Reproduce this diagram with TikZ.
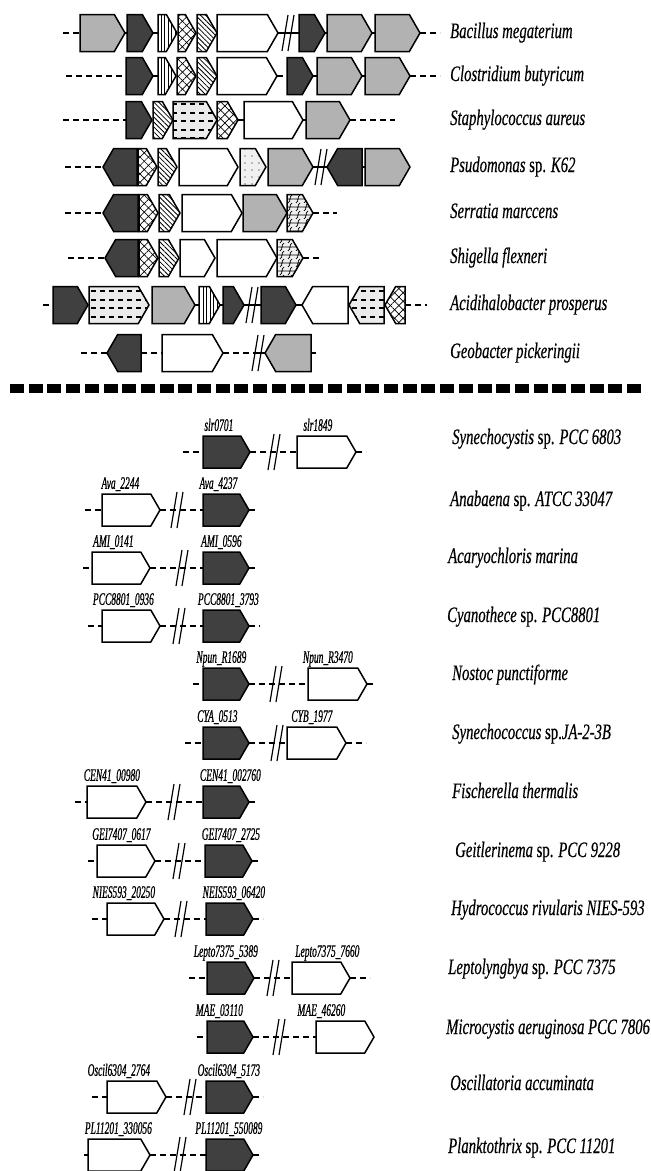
\documentclass[tikz,border=0pt]{standalone}
\usepackage{fontspec}
\setmainfont{Liberation Serif}
\newfontfamily\spfont[FakeStretch=0.67,FakeBold=0.4]{Liberation Serif}
\newfontfamily\locfont[FakeStretch=0.54,FakeBold=0.7]{Liberation Serif}
\usetikzlibrary{
  positioning,
  shapes.symbols,
  patterns,
  patterns.meta
}
% fill patterns of the gene arrows
\pgfdeclarepatternformonly{dashrows}{\pgfpoint{-1pt}{-1pt}}{\pgfpoint{10pt}{10pt}}{\pgfpoint{9pt}{8.5pt}}{%
  \pgfpathrectangle{\pgfpoint{1pt}{3pt}}{\pgfpoint{5pt}{2.2pt}}\pgfusepath{fill}}
\pgfdeclarepatternformonly{waves}{\pgfpoint{-1pt}{-1pt}}{\pgfpoint{9pt}{9pt}}{\pgfpoint{8pt}{8pt}}{%
  \pgfsetlinewidth{0.7pt}%
  \pgfpathmoveto{\pgfpoint{0pt}{0pt}}%
  \pgfpathcurveto{\pgfpoint{3pt}{1pt}}{\pgfpoint{1pt}{7pt}}{\pgfpoint{4pt}{8pt}}%
  \pgfpathmoveto{\pgfpoint{0pt}{4pt}}%
  \pgfpathcurveto{\pgfpoint{3pt}{3pt}}{\pgfpoint{5pt}{5pt}}{\pgfpoint{8pt}{4pt}}%
  \pgfusepath{stroke}}

\begin{document}
\begin{tikzpicture}[x=1pt, y=-1pt,
	gene/.style={signal, signal to=east, signal pointer angle=120, draw,
		line width=1.5pt, anchor=west, inner sep=0pt, outer sep=0pt, minimum height=37},
	low/.style={minimum height=32},
	back/.style={signal to=west},
	dk/.style={fill=black!75},
	lg/.style={fill=black!30},
	wt/.style={fill=white},
	vl/.style={pattern={Lines[angle=90,distance=3.5pt,line width=0.8pt]}},
	nw/.style={pattern={Lines[angle=-45,distance=3.5pt,line width=0.8pt]}},
	xh/.style={preaction={pattern={Lines[angle=45,distance=6pt,line width=0.7pt]}},
		pattern={Lines[angle=-45,distance=6pt,line width=0.7pt]}},
	dr/.style={preaction={fill=black!8}, pattern=dashrows},
	sd/.style={preaction={fill=black!6}, pattern={Dots[distance=7pt,radius=0.6pt]}},
	wv/.style={preaction={fill=black!6}, pattern=waves},
	lnk/.style={line width=2pt, dash pattern=on 6pt off 4pt},
	bb/.style={line width=1.5pt},
	divider/.style={line width=9pt, dash pattern=on 14pt off 4.7pt},
	species/.style={anchor=west, inner sep=0pt, text height=15pt, text depth=5pt,
		font=\spfont\itshape\fontsize{22}{24}\selectfont},
	loc/.style={inner sep=1pt, text height=11pt, text depth=2pt,
		font=\locfont\itshape\fontsize{17.5}{19}\selectfont},
	brk/.pic={\draw[line width=1.2pt] (-5,18)--(1,-18) (1,18)--(7,-18);}
	]
	\useasboundingbox (0,0) rectangle (651,1171);
	% Bacillus megaterium
	\coordinate (b1l) at (63,33); \coordinate (b1k) at (287,33); \coordinate (b1r) at (440,33);
	\node[gene,lg,minimum width=45] (b1a) at (80,33) {};
	\node[gene,dk,minimum width=26] (b1b) at (127,33) {};
	\node[gene,vl,minimum width=19] (b1c) at (158,33) {};
	\node[gene,xh,minimum width=18] (b1d) at (178,33) {};
	\node[gene,nw,minimum width=20] (b1e) at (197,33) {};
	\node[gene,wt,minimum width=61] (b1f) at (217,33) {};
	\node[gene,dk,minimum width=26] (b1g) at (299,33) {};
	\node[gene,lg,minimum width=45] (b1h) at (327,33) {};
	\node[gene,lg,minimum width=45] (b1i) at (375,33) {};
	\draw[lnk] (b1l) -- (b1a.west); \draw[lnk] (b1i.east) -- (b1r);
	\draw[bb] (b1a.east) -- (b1b.west) (b1b.east) -- (b1c.west) (b1f.east) -- (b1k) -- (b1g.west)
		(b1g.east) -- (b1h.west) (b1h.east) -- (b1i.west);
	\pic at (b1k) {brk};
	\node[species] (t1) at (450,33) {Bacillus megaterium};
	% Clostridium butyricum
	\coordinate (b2l) at (66,76); \coordinate (b2r) at (440,76);
	\node[gene,dk,minimum width=27] (b2a) at (126,76) {};
	\node[gene,vl,minimum width=18] (b2b) at (158,76) {};
	\node[gene,xh,minimum width=19] (b2c) at (177,76) {};
	\node[gene,nw,minimum width=20] (b2d) at (197,76) {};
	\node[gene,wt,minimum width=60] (b2e) at (217,76) {};
	\node[gene,dk,minimum width=26] (b2f) at (287,76) {};
	\node[gene,lg,minimum width=45] (b2g) at (317,76) {};
	\node[gene,lg,minimum width=45] (b2h) at (365,76) {};
	\draw[lnk] (b2l) -- (b2a.west); \draw[lnk] (b2e.east) -- (b2f.west); \draw[lnk] (b2h.east) -- (b2r);
	\draw[bb] (b2a.east) -- (b2b.west) (b2f.east) -- (b2g.west) (b2g.east) -- (b2h.west);
	\node[species] (t2) at (450,76) {Clostridium butyricum};
	% Staphylococcus aureus
	\coordinate (b3l) at (63,120); \coordinate (b3r) at (395,120);
	\node[gene,dk,minimum width=26] (b3a) at (126,120) {};
	\node[gene,nw,minimum width=20] (b3b) at (153,120) {};
	\node[gene,dr,minimum width=44] (b3c) at (173,120) {};
	\node[gene,xh,minimum width=21] (b3d) at (217,120) {};
	\node[gene,wt,minimum width=59] (b3e) at (244,120) {};
	\node[gene,lg,minimum width=44] (b3f) at (306,120) {};
	\draw[lnk] (b3l) -- (b3a.west); \draw[lnk] (b3f.east) -- (b3r);
	\draw[bb] (b3d.east) -- (b3e.west) (b3e.east) -- (b3f.west);
	\node[species] (t3) at (450,120) {Staphylococcus aureus};
	% Psudomonas sp. K62
	\coordinate (b4l) at (65,167); \coordinate (b4k) at (320,167);
	\node[gene,dk,back,minimum width=34] (b4a) at (103,167) {};
	\node[gene,xh,minimum width=19] (b4b) at (138,167) {};
	\node[gene,nw,minimum width=19] (b4c) at (158,167) {};
	\node[gene,wt,minimum width=59] (b4d) at (179,167) {};
	\node[gene,sd,minimum width=26] (b4e) at (240,167) {};
	\node[gene,lg,minimum width=45] (b4f) at (268,167) {};
	\node[gene,dk,back,minimum width=35] (b4g) at (327,167) {};
	\node[gene,lg,minimum width=45] (b4h) at (365,167) {};
	\draw[lnk] (b4l) -- (b4a.west);
	\draw[bb] (b4f.east) -- (b4k) -- (b4g.west) (b4g.east) -- (b4h.west);
	\pic at (b4k) {brk};
	\node[species] (t4) at (450,167) {Psudomonas \textup{sp.} K62};
	% Serratia marccens
	\coordinate (b5l) at (65,213); \coordinate (b5r) at (337,213);
	\node[gene,dk,back,minimum width=35] (b5a) at (103,213) {};
	\node[gene,xh,minimum width=19] (b5b) at (139,213) {};
	\node[gene,nw,minimum width=21] (b5c) at (159,213) {};
	\node[gene,wt,minimum width=60] (b5d) at (182,213) {};
	\node[gene,lg,minimum width=44] (b5e) at (243,213) {};
	\node[gene,wv,minimum width=26] (b5f) at (287,213) {};
	\draw[lnk] (b5l) -- (b5a.west); \draw[lnk] (b5f.east) -- (b5r);
	\node[species] (t5) at (450,213) {Serratia marccens};
	% Shigella flexneri
	\coordinate (b6l) at (68,258); \coordinate (b6r) at (322,258);
	\node[gene,dk,back,minimum width=33] (b6a) at (105,258) {};
	\node[gene,xh,minimum width=19] (b6b) at (139,258) {};
	\node[gene,nw,minimum width=20] (b6c) at (159,258) {};
	\node[gene,wt,minimum width=35] (b6d) at (180,258) {};
	\node[gene,wt,minimum width=60] (b6e) at (217,258) {};
	\node[gene,wv,minimum width=26] (b6f) at (277,258) {};
	\draw[lnk] (b6l) -- (b6a.west); \draw[lnk] (b6f.east) -- (b6r);
	\node[species] (t6) at (450,258) {Shigella flexneri};
	% Acidihalobacter prosperus
	\coordinate (b7l) at (43,305); \coordinate (b7k) at (251,305); \coordinate (b7r) at (427,305);
	\node[gene,dk,minimum width=35] (b7a) at (53,305) {};
	\node[gene,dr,minimum width=60] (b7b) at (89,305) {};
	\node[gene,lg,minimum width=43] (b7c) at (152,305) {};
	\node[gene,vl,minimum width=21] (b7d) at (199,305) {};
	\node[gene,dk,minimum width=21] (b7e) at (223,305) {};
	\node[gene,dk,minimum width=35] (b7f) at (261,305) {};
	\node[gene,wt,back,minimum width=46] (b7g) at (302,305) {};
	\node[gene,dr,back,minimum width=35] (b7h) at (349,305) {};
	\node[gene,xh,back,minimum width=20] (b7i) at (385,305) {};
	\draw[lnk] (b7l) -- (b7a.west); \draw[lnk] (b7i.east) -- (b7r);
	\draw[bb] (b7c.east) -- (b7d.west) (b7d.east) -- (b7e.west) (b7e.east) -- (b7k) -- (b7f.west)
		(b7f.east) -- (b7g.west);
	\pic at (b7k) {brk};
	\node[species] (t7) at (450,305) {Acidihalobacter prosperus};
	% Geobacter pickeringii
	\coordinate (b8l) at (81,353); \coordinate (b8k) at (257,353); \coordinate (b8r) at (316,353);
	\node[gene,dk,back,minimum width=34] (b8a) at (107,353) {};
	\node[gene,wt,minimum width=61] (b8b) at (162,353) {};
	\node[gene,lg,back,minimum width=46] (b8c) at (265,353) {};
	\draw[lnk] (b8l) -- (b8a.west); \draw[lnk] (b8a.east) -- (b8b.west); \draw[lnk] (b8b.east) -- (b8k);
	\draw[bb] (b8k) -- (b8c.west) (b8c.east) -- (b8r);
	\pic at (b8k) {brk};
	\node[species] (t8) at (450,353) {Geobacter pickeringii};
	% dividing line
	\coordinate (dl) at (10,388); \coordinate (dr) at (641,388);
	\draw[divider] (dl) -- (dr);
	% Synechocystis sp. PCC 6803
	\coordinate (c1l) at (183,452); \coordinate (c1k) at (273,452); \coordinate (c1r) at (366,452);
	\node[gene,low,dk,minimum width=47] (c1a) at (203,452) {};
	\node[gene,low,wt,minimum width=59] (c1b) at (297,452) {};
	\draw[lnk] (c1l) -- (c1a.west); \draw[lnk] (c1a.east) -- (c1k) -- (c1b.west); \draw[lnk] (c1b.east) -- (c1r);
	\pic at (c1k) {brk};
	\node[loc, above=2pt of c1a, xshift=-3pt] (c1at) {slr0701};
	\node[loc, above=2pt of c1b, xshift=-4pt] (c1bt) {slr1849};
	\node[species] (s1) at (452,439) {Synechocystis \textup{sp.} PCC 6803};
	% Anabaena sp. ATCC 33047
	\coordinate (c2l) at (85,510); \coordinate (c2k) at (176,510); \coordinate (c2r) at (258,510);
	\node[gene,low,wt,minimum width=58] (c2a) at (102,510) {};
	\node[gene,low,dk,minimum width=46] (c2b) at (203,510) {};
	\draw[lnk] (c2l) -- (c2a.west); \draw[lnk] (c2a.east) -- (c2k) -- (c2b.west); \draw[lnk] (c2b.east) -- (c2r);
	\pic at (c2k) {brk};
	\node[loc, above=2pt of c2a, xshift=-6pt] (c2at) {Ava\_2244};
	\node[loc, above=2pt of c2b, xshift=-3pt] (c2bt) {Ava\_4237};
	\node[species] (s2) at (450,501) {Anabaena \textup{sp.} ATCC 33047};
	% Acaryochloris marina
	\coordinate (c3l) at (83,568); \coordinate (c3k) at (181,568); \coordinate (c3r) at (257,568);
	\node[gene,low,wt,minimum width=58] (c3a) at (92,568) {};
	\node[gene,low,dk,minimum width=46] (c3b) at (203,568) {};
	\draw[lnk] (c3l) -- (c3a.west); \draw[lnk] (c3a.east) -- (c3k) -- (c3b.west); \draw[lnk] (c3b.east) -- (c3r);
	\pic at (c3k) {brk};
	\node[loc, above=2pt of c3a, xshift=-3pt] (c3at) {AMI\_0141};
	\node[loc, above=2pt of c3b] (c3bt) {AMI\_0596};
	\node[species] (s3) at (448,558) {Acaryochloris marina};
	% Cyanothece sp. PCC8801
	\coordinate (c4l) at (88,626); \coordinate (c4k) at (178,626); \coordinate (c4r) at (260,626);
	\node[gene,low,wt,minimum width=58] (c4a) at (102,626) {};
	\node[gene,low,dk,minimum width=46] (c4b) at (203,626) {};
	\draw[lnk] (c4l) -- (c4a.west); \draw[lnk] (c4a.east) -- (c4k) -- (c4b.west); \draw[lnk] (c4b.east) -- (c4r);
	\pic at (c4k) {brk};
	\node[loc, above=2pt of c4a, xshift=-3pt] (c4at) {PCC8801\_0936};
	\node[loc, above=2pt of c4b, xshift=7pt] (c4bt) {PCC8801\_3793};
	\node[species] (s4) at (447,617) {Cyanothece \textup{sp.} PCC8801};
	% Nostoc punctiforme
	\coordinate (c5l) at (193,684); \coordinate (c5k) at (275,684); \coordinate (c5r) at (373,684);
	\node[gene,low,dk,minimum width=46] (c5a) at (203,684) {};
	\node[gene,low,wt,minimum width=59] (c5b) at (308,684) {};
	\draw[lnk] (c5l) -- (c5a.west); \draw[lnk] (c5a.east) -- (c5k) -- (c5b.west); \draw[lnk] (c5b.east) -- (c5r);
	\pic at (c5k) {brk};
	\node[loc, above=2pt of c5a] (c5at) {Npun\_R1689};
	\node[loc, above=2pt of c5b, xshift=-5pt] (c5bt) {Npun\_R3470};
	\node[species] (s5) at (452,675) {Nostoc punctiforme};
	% Synechococcus sp. JA-2-3B
	\coordinate (c6l) at (185,743); \coordinate (c6k) at (276,743); \coordinate (c6r) at (366,743);
	\node[gene,low,dk,minimum width=46] (c6a) at (203,743) {};
	\node[gene,low,wt,minimum width=59] (c6b) at (287,743) {};
	\draw[lnk] (c6l) -- (c6a.west); \draw[lnk] (c6a.east) -- (c6k) -- (c6b.west); \draw[lnk] (c6b.east) -- (c6r);
	\pic at (c6k) {brk};
	\node[loc, above=2pt of c6a, xshift=-4pt] (c6at) {CYA\_0513};
	\node[loc, above=2pt of c6b] (c6bt) {CYB\_1977};
	\node[species] (s6) at (452,734) {Synechococcus \textup{sp.}JA-2-3B};
	% Fischerella thermalis
	\coordinate (c7l) at (75,802); \coordinate (c7k) at (173,802); \coordinate (c7r) at (257,802);
	\node[gene,low,wt,minimum width=59] (c7a) at (87,802) {};
	\node[gene,low,dk,minimum width=46] (c7b) at (203,802) {};
	\draw[lnk] (c7l) -- (c7a.west); \draw[lnk] (c7a.east) -- (c7k) -- (c7b.west); \draw[lnk] (c7b.east) -- (c7r);
	\pic at (c7k) {brk};
	\node[loc, above=2pt of c7a] (c7at) {CEN41\_00980};
	\node[loc, above=2pt of c7b, xshift=9pt] (c7bt) {CEN41\_002760};
	\node[species] (s7) at (452,793) {Fischerella thermalis};
	% Geitlerinema sp. PCC 9228
	\coordinate (c8l) at (88,861); \coordinate (c8k) at (178,861); \coordinate (c8r) at (260,861);
	\node[gene,low,wt,minimum width=58] (c8a) at (97,861) {};
	\node[gene,low,dk,minimum width=47] (c8b) at (205,861) {};
	\draw[lnk] (c8l) -- (c8a.west); \draw[lnk] (c8a.east) -- (c8k) -- (c8b.west); \draw[lnk] (c8b.east) -- (c8r);
	\pic at (c8k) {brk};
	\node[loc, above=2pt of c8a] (c8at) {GEI7407\_0617};
	\node[loc, above=2pt of c8b, xshift=7pt] (c8bt) {GEI7407\_2725};
	\node[species] (s8) at (455,852) {Geitlerinema \textup{sp.} PCC 9228};
	% Hydrococcus rivularis NIES-593
	\coordinate (c9l) at (92,919); \coordinate (c9k) at (180,919); \coordinate (c9r) at (263,919);
	\node[gene,low,wt,minimum width=57] (c9a) at (107,919) {};
	\node[gene,low,dk,minimum width=47] (c9b) at (206,919) {};
	\draw[lnk] (c9l) -- (c9a.west); \draw[lnk] (c9a.east) -- (c9k) -- (c9b.west); \draw[lnk] (c9b.east) -- (c9r);
	\pic at (c9k) {brk};
	\node[loc, above=2pt of c9a, xshift=-7pt] (c9at) {NIES593\_20250};
	\node[loc, above=2pt of c9b, xshift=9pt] (c9bt) {NEIS593\_06420};
	\node[species] (s9) at (451,910) {Hydrococcus rivularis NIES-593};
	% Leptolyngbya sp. PCC 7375
	\coordinate (c10l) at (189,978); \coordinate (c10k) at (272,978); \coordinate (c10r) at (370,978);
	\node[gene,low,dk,minimum width=47] (c10a) at (207,978) {};
	\node[gene,low,wt,minimum width=58] (c10b) at (292,978) {};
	\draw[lnk] (c10l) -- (c10a.west); \draw[lnk] (c10a.east) -- (c10k) -- (c10b.west); \draw[lnk] (c10b.east) -- (c10r);
	\pic at (c10k) {brk};
	\node[loc, above=2pt of c10a] (c10at) {Lepto7375\_5389};
	\node[loc, above=2pt of c10b, xshift=11pt] (c10bt) {Lepto7375\_7660};
	\node[species] (s10) at (448,969) {Leptolyngbya \textup{sp.} PCC 7375};
	% Microcystis aeruginosa PCC 7806
	\coordinate (c11l) at (197,1037); \coordinate (c11k) at (278,1037);
	\node[gene,low,dk,minimum width=46] (c11a) at (207,1037) {};
	\node[gene,low,wt,minimum width=58] (c11b) at (316,1037) {};
	\draw[lnk] (c11l) -- (c11a.west); \draw[lnk] (c11a.east) -- (c11k) -- (c11b.west);
	\pic at (c11k) {brk};
	\node[loc, above=2pt of c11a, xshift=-6pt] (c11at) {MAE\_03110};
	\node[loc, above=2pt of c11b, xshift=-19pt] (c11bt) {MAE\_46260};
	\node[species] (s11) at (446,1029) {Microcystis aeruginosa PCC 7806};
	% Oscillatoria accuminata
	\coordinate (c12l) at (92,1097); \coordinate (c12k) at (189,1097); \coordinate (c12r) at (263,1097);
	\node[gene,low,wt,minimum width=59] (c12a) at (107,1097) {};
	\node[gene,low,dk,minimum width=47] (c12b) at (206,1097) {};
	\draw[lnk] (c12l) -- (c12a.west); \draw[lnk] (c12a.east) -- (c12k) -- (c12b.west); \draw[lnk] (c12b.east) -- (c12r);
	\pic at (c12k) {brk};
	\node[loc, above=2pt of c12a, xshift=-13pt] (c12at) {Oscil6304\_2764};
	\node[loc, above=2pt of c12b, xshift=4pt] (c12bt) {Oscil6304\_5173};
	\node[species] (s12) at (450,1085) {Oscillatoria accuminata};
	% Planktothrix sp. PCC 11201
	\coordinate (c13l) at (84,1155); \coordinate (c13k) at (179,1155); \coordinate (c13r) at (259,1155);
	\node[gene,low,wt,minimum width=62] (c13a) at (88,1155) {};
	\node[gene,low,dk,minimum width=47] (c13b) at (206,1155) {};
	\draw[lnk] (c13l) -- (c13a.west); \draw[lnk] (c13a.east) -- (c13k) -- (c13b.west); \draw[lnk] (c13b.east) -- (c13r);
	\pic at (c13k) {brk};
	\node[loc, above=2pt of c13a, xshift=4pt] (c13at) {PL11201\_330056};
	\node[loc, above=2pt of c13b, xshift=4pt] (c13bt) {PL11201\_550089};
	\node[species] (s13) at (448,1148) {Planktothrix \textup{sp.} PCC 11201};
\end{tikzpicture}
\end{document}
